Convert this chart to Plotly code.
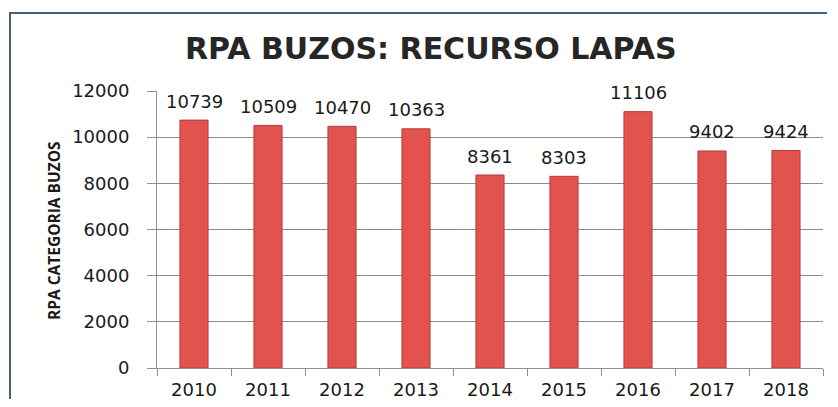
import plotly.graph_objects as go

years = ["2010", "2011", "2012", "2013", "2014", "2015", "2016", "2017", "2018"]
values = [10739, 10509, 10470, 10363, 8361, 8303, 11106, 9402, 9424]
y_ticks = [0, 2000, 4000, 6000, 8000, 10000, 12000]
title_text = "RPA BUZOS: RECURSO LAPAS"
y_title = "RPA CATEGORIA BUZOS"

# The page body has an 8px default margin; work in reference pixels and offset.
OFF = 8
W, H = 838 - 2 * OFF, 407 - 2 * OFF
plot_left, plot_right, plot_top, plot_bottom = 157, 823, 91, 368
L = plot_left - OFF
T = plot_top - OFF
R = W - (plot_right - OFF)
B = H - (plot_bottom - OFF)
pw, ph = W - L - R, H - T - B

def px_x(x):
    return (x - OFF - L) / pw

def px_y(y):
    return (H - B - (y - OFF)) / ph

fig = go.Figure()
fig.add_trace(go.Bar(
    x=years, y=values,
    marker=dict(color="#e2524f", line=dict(color="#b83a38", width=1)),
    hoverinfo="x+y",
))

annotations = []
for i, v in enumerate(values):
    annotations.append(dict(
        x=i, y=v, xref="x", yref="y", text=str(v), showarrow=False,
        yshift=19, yanchor="middle",
        font=dict(family="DejaVu Sans", size=18, color="#1a1a1a"),
    ))
annotations.append(dict(
    x=px_x(54), y=px_y(230), xref="paper", yref="paper", text=y_title,
    textangle=-90, showarrow=False, xanchor="center", yanchor="middle",
    font=dict(family="Open Sans", size=15.5, color="#1a1a1a", weight="bold"),
))
annotations.append(dict(
    x=px_x(431), y=px_y(48), xref="paper", yref="paper", text=title_text,
    showarrow=False, xanchor="center", yanchor="middle",
    font=dict(family="DejaVu Sans", size=30, color="#262626", weight="bold"),
))

frame_color = "#45617e"
fig.update_layout(
    width=W, height=H,
    margin=dict(l=L, r=R, t=T, b=B),
    paper_bgcolor="white", plot_bgcolor="white",
    bargap=0.62,
    showlegend=False,
    annotations=annotations,
    shapes=[
        dict(type="line", xref="paper", yref="paper",
             x0=px_x(9), x1=px_x(OFF + W - 3), y0=px_y(13), y1=px_y(13),
             line=dict(color=frame_color, width=2), layer="below"),
        dict(type="line", xref="paper", yref="paper",
             x0=px_x(10), x1=px_x(10), y0=px_y(12), y1=px_y(OFF + H),
             line=dict(color=frame_color, width=2), layer="below"),
    ],
)
fig.update_xaxes(
    type="category", range=[-0.5, len(years) - 0.5], automargin=False,
    showline=True, linecolor="#8a8f9a", linewidth=1,
    ticks="outside", ticklen=7, tickcolor="#8a8f9a", tickson="boundaries",
    tickfont=dict(family="DejaVu Sans", size=18, color="#1a1a1a"),
    tickangle=0,
    ticklabelstandoff=5,
    showgrid=False,
)
fig.update_yaxes(
    range=[0, 12000], tickvals=y_ticks, tickformat="d", automargin=False,
    showline=True, linecolor="#8a8f9a", linewidth=1,
    ticks="outside", ticklen=9, tickcolor="#8a8f9a",
    showgrid=True, gridcolor="#8c8c8c", gridwidth=1,
    zeroline=False,
    tickfont=dict(family="DejaVu Sans", size=18, color="#1a1a1a"),
    ticklabelstandoff=14,
)

fig.write_html("out.html")
